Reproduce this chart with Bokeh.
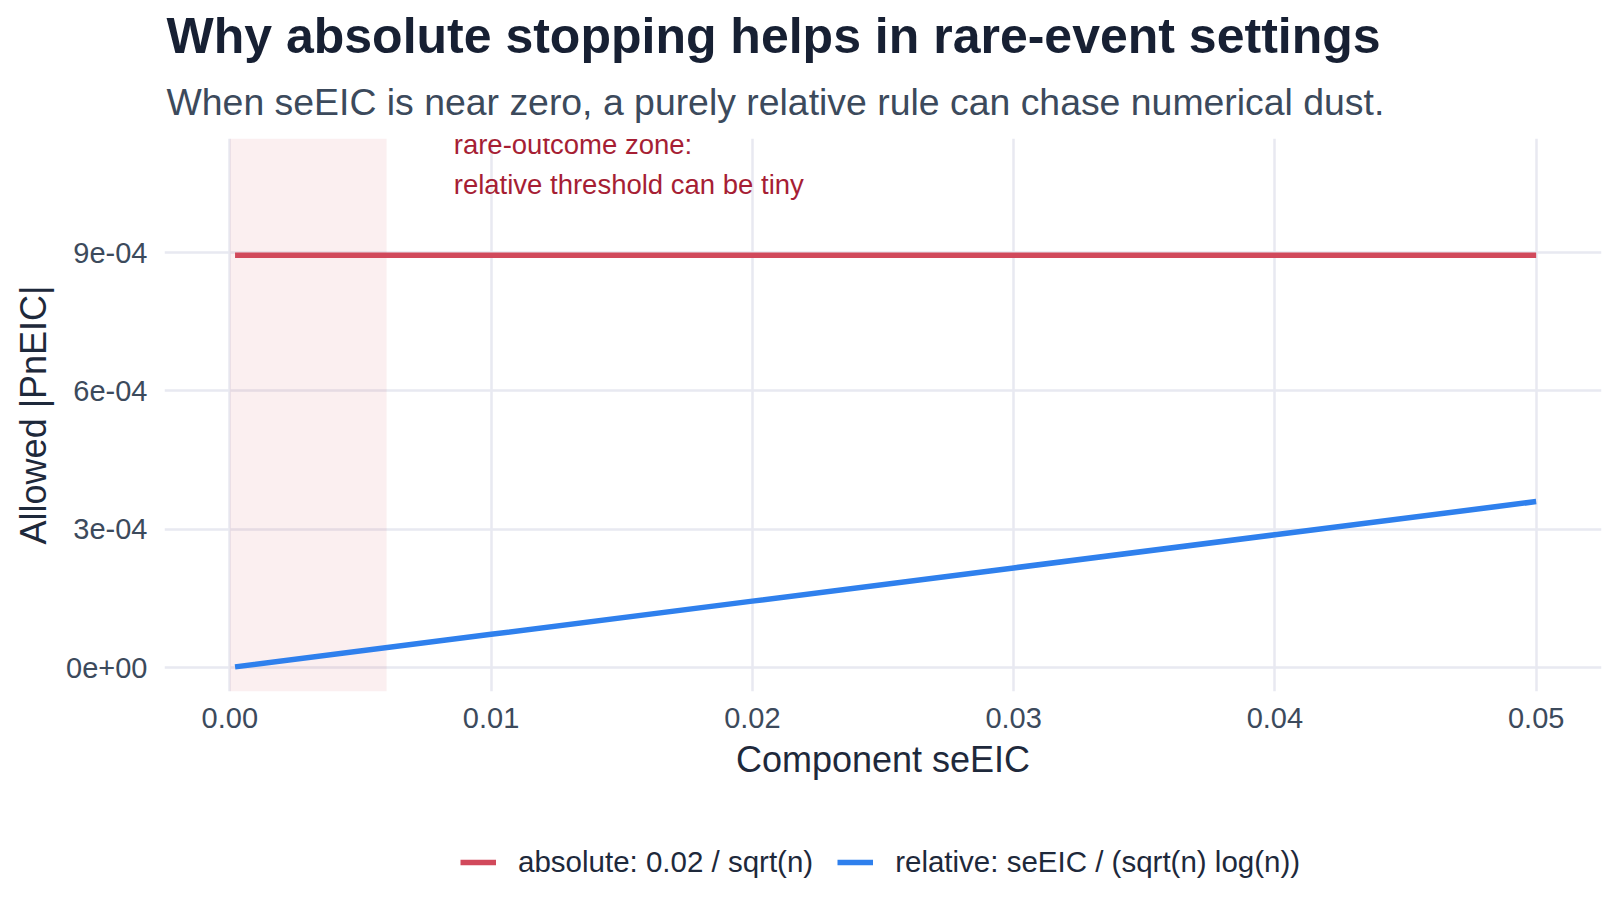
from bokeh.plotting import figure
from bokeh.layouts import column
from bokeh.models import (Range1d, FixedTicker, CustomJSTickFormatter, NumeralTickFormatter,
                          Label, Legend, LegendItem, BoxAnnotation, Title)
from bokeh.embed import file_html
from bokeh.resources import INLINE

# ---- data ----
se_eic = [0.0002, 0.01, 0.02, 0.03, 0.04, 0.05]
absolute_thr = [0.000894, 0.000894, 0.000894, 0.000894, 0.000894, 0.000894]
relative_thr = [0.0000014, 0.000072, 0.000144, 0.000216, 0.000288, 0.00036]
x_ticks = [0.0, 0.01, 0.02, 0.03, 0.04, 0.05]
y_ticks = [0.0, 0.0003, 0.0006, 0.0009]
y_tick_labels = ["0e+00", "3e-04", "6e-04", "9e-04"]
rare_zone = [0.0, 0.006]
series_names = ["absolute: 0.02 / sqrt(n)", "relative: seEIC / (sqrt(n) log(n))"]
title_text = "Why absolute stopping helps in rare-event settings"
subtitle_text = "When seEIC is near zero, a purely relative rule can chase numerical dust."
note_lines = ["rare-outcome zone:", "relative threshold can be tiny"]
note_x = 0.00857
note_y = [0.0011343, 0.0010475]

FONT = "Liberation Sans"
RED = "#d1495b"
BLUE = "#2f80ed"

W, H = 1620, 917
H_LEG = 107
H_MAIN = H - H_LEG
FL, FR, FT, FB = 164, 1601, 138, 691

p = figure(width=W, height=H_MAIN, output_backend="svg", toolbar_location=None,
           x_range=Range1d(-0.0025, 0.0525), y_range=Range1d(-0.000052, 0.0011475),
           min_border_left=FL, min_border_right=W - FR, min_border_top=FT,
           min_border_bottom=H_MAIN - FB)
p.outline_line_color = None
p.background_fill_color = "white"
p.border_fill_color = "white"

# grid
for g in (p.xgrid, p.ygrid):
    g.grid_line_color = "#e8e9f1"
    g.grid_line_width = 2.5
p.xgrid.ticker = FixedTicker(ticks=x_ticks)
p.ygrid.ticker = FixedTicker(ticks=y_ticks)

# axes
for ax in (p.xaxis[0], p.yaxis[0]):
    ax.axis_line_color = None
    ax.major_tick_line_color = None
    ax.minor_tick_line_color = None
    ax.major_tick_in = 0
    ax.major_tick_out = 0
    ax.major_label_text_font = FONT
    ax.major_label_text_font_size = "29px"
    ax.major_label_text_color = "#3c4a5c"
    ax.axis_label_text_font = FONT
    ax.axis_label_text_font_size = "36px"
    ax.axis_label_text_font_style = "normal"
    ax.axis_label_text_color = "#1e293b"

p.xaxis.ticker = FixedTicker(ticks=x_ticks)
p.xaxis.formatter = NumeralTickFormatter(format="0.00")
p.xaxis.axis_label = "Component seEIC"
p.xaxis.major_label_standoff = 16
p.xaxis.axis_label_standoff = 8

p.yaxis.ticker = FixedTicker(ticks=y_ticks)
p.yaxis.formatter = CustomJSTickFormatter(args=dict(tvals=y_ticks, labs=y_tick_labels), code="""
    let best = 0, bd = Infinity;
    for (let i = 0; i < tvals.length; i++) {
        const d = Math.abs(tvals[i] - tick);
        if (d < bd) { bd = d; best = i; }
    }
    return labs[best];
""")
p.yaxis.axis_label = "Allowed |PnEIC|"
p.yaxis.major_label_standoff = 17
p.yaxis.axis_label_standoff = 9

# rare-outcome zone shading
p.add_layout(BoxAnnotation(left=rare_zone[0], right=rare_zone[1], fill_color=RED,
                           fill_alpha=0.09, line_alpha=0, level="underlay"))

r_abs = p.line(se_eic, absolute_thr, line_color=RED, line_width=5.5)
r_rel = p.line(se_eic, relative_thr, line_color=BLUE, line_width=5.5)

# annotation
for txt, yy in zip(note_lines, note_y):
    p.add_layout(Label(x=note_x, y=yy, text=txt, text_font=FONT, text_font_size="27.5px",
                       text_color="#a61e34", text_baseline="alphabetic", text_align="left"))

# subtitle (nearest to the frame) then title
p.add_layout(Title(text=subtitle_text, align="left", offset=2, standoff=31,
                   text_font=FONT, text_font_size="37.4px", text_font_style="normal",
                   text_color="#3c4a5c"), "above")
p.add_layout(Title(text=title_text, align="left", offset=2, standoff=0,
                   text_font=FONT, text_font_size="50px", text_font_style="bold",
                   text_color="#172033"), "above")

# legend strip below the chart (its frame is aligned with the chart frame;
# its range excludes the data so only the legend shows)
q = figure(width=W, height=H_LEG, output_backend="svg", toolbar_location=None,
           x_axis_location=None, y_axis_location=None,
           x_range=Range1d(-0.0025, 0.0525), y_range=Range1d(1, 2),
           min_border_left=0, min_border_right=0, min_border_top=0, min_border_bottom=0)
q.outline_line_color = None
q.grid.visible = False
q.background_fill_color = "white"
q.border_fill_color = "white"
k_abs = q.line(se_eic, absolute_thr, line_color=RED, line_width=5.5)
k_rel = q.line(se_eic, relative_thr, line_color=BLUE, line_width=5.5)
legend = Legend(items=[LegendItem(label=series_names[0], renderers=[k_abs]),
                       LegendItem(label=series_names[1], renderers=[k_rel])],
                orientation="horizontal", location=(460 - FL, 38),
                glyph_width=36, glyph_height=30, label_standoff=22, spacing=24,
                padding=0, margin=0, border_line_color=None, background_fill_alpha=0,
                label_text_font=FONT, label_text_font_size="29.5px", label_text_color="#1e293b")
q.add_layout(legend, "center")

layout = column(p, q, spacing=0)
open("out.html", "w").write(file_html(layout, INLINE))
